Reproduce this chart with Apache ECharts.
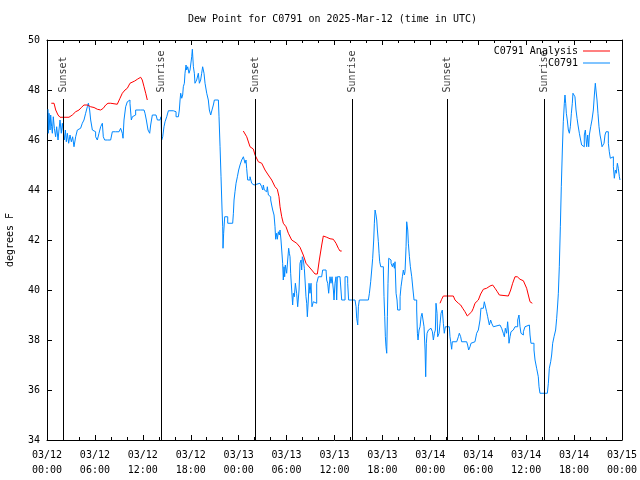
<!DOCTYPE html>
<html>
<head>
<meta charset="utf-8">
<script src="https://cdn.jsdelivr.net/npm/echarts@6/dist/echarts.min.js"></script>
<style>html,body{margin:0;padding:0;background:#fff}#c{width:640px;height:480px}</style>
</head>
<body>
<div id="c"></div>
<script>
// x values are hours since 2025-03-12 00:00 UTC
const tickLabels = ['03/12\n00:00','03/12\n06:00','03/12\n12:00','03/12\n18:00','03/13\n00:00','03/13\n06:00','03/13\n12:00','03/13\n18:00','03/14\n00:00','03/14\n06:00','03/14\n12:00','03/14\n18:00','03/15\n00:00'];
const sunTimes = [2.0, 14.28, 26.05, 38.19, 50.09, 62.24];
const sunLabels = ['Sunset','Sunrise','Sunset','Sunrise','Sunset','Sunrise'];

const analysisSeg1 = [[0.54,47.47],[0.88,47.47],[1.09,47.2],[1.38,47.0],[1.63,46.91],[2.75,46.91],[3.17,47.0],[3.59,47.13],[4.01,47.2],[4.3,47.3],[4.63,47.4],[5.05,47.4],[5.47,47.33],[5.89,47.3],[6.3,47.23],[6.72,47.2],[7.05,47.27],[7.35,47.4],[7.64,47.47],[7.98,47.47],[8.8,47.43],[9.14,47.67],[9.43,47.87],[9.77,48.0],[10.06,48.07],[10.39,48.27],[10.98,48.36],[11.31,48.43],[11.73,48.51],[11.93,48.4],[12.15,48.13],[12.36,47.87],[12.56,47.6]];
const analysisSeg2 = [[24.58,46.36],[25.01,46.13],[25.42,45.73],[25.83,45.64],[26.05,45.4],[26.46,45.13],[26.89,45.07],[27.3,44.8],[27.71,44.6],[28.14,44.4],[28.55,44.13],[28.84,44.03],[29.05,43.73],[29.18,43.33],[29.39,42.93],[29.59,42.67],[29.93,42.53],[30.22,42.27],[30.64,42.0],[31.27,41.87],[31.68,41.71],[31.89,41.67],[32.09,41.4],[32.43,41.07],[32.72,40.96],[33.15,40.8],[33.56,40.64],[33.85,40.64],[34.1,41.2],[34.4,41.8],[34.6,42.16],[35.02,42.11],[35.44,42.05],[35.85,42.03],[36.19,41.87],[36.48,41.67],[36.69,41.56],[36.9,41.56]];
const analysisSeg3 = [[49.21,39.47],[49.42,39.63],[49.63,39.76],[50.88,39.76],[51.09,39.6],[51.51,39.47],[51.8,39.4],[52.05,39.27],[52.34,39.13],[52.63,38.96],[52.88,38.96],[53.18,39.13],[53.38,39.27],[53.59,39.47],[54.01,39.6],[54.3,39.84],[54.64,40.03],[55.05,40.07],[55.47,40.16],[55.8,40.2],[56.1,40.07],[56.39,39.93],[56.64,39.8],[57.77,39.76],[58.06,40.0],[58.31,40.27],[58.6,40.53],[58.89,40.53],[59.23,40.43],[59.65,40.37],[59.85,40.33],[60.06,40.07],[60.27,39.8],[60.48,39.53],[60.77,39.47]];

const obsA = [[0.13,47.23],[0.17,46.27],[0.25,47.07],[0.38,46.4],[0.46,47.0],[0.58,46.53],[0.67,46.27],[0.79,46.93],[0.92,46.47],[1.08,46.13],[1.21,46.53],[1.38,46.0],[1.5,46.4],[1.63,46.8],[1.79,46.27],[1.92,46.67],[2.05,46.33],[2.17,46.0],[2.3,46.4],[2.42,45.93],[2.55,46.27],[2.71,45.87],[2.88,46.2],[3.05,45.93],[3.21,46.13],[3.38,45.73],[3.59,46.13],[3.8,46.4],[4.0,46.47],[4.21,46.4],[4.42,46.67],[4.63,46.8],[4.84,47.07],[5.05,47.33],[5.18,47.47],[5.34,47.2],[5.47,46.8],[5.68,46.4],[5.89,46.33],[6.09,46.13],[6.3,46.0],[6.51,46.27],[6.72,46.53],[6.93,46.67],[7.05,46.13],[7.22,46.0],[7.55,46.0],[7.97,46.07],[8.18,46.33],[8.6,46.33],[9.02,46.33],[9.22,46.47],[9.43,46.27],[9.52,46.07],[9.64,46.8],[9.85,47.33],[10.06,47.53],[10.27,47.6],[10.39,47.47],[10.56,46.8],[10.69,46.93],[10.9,47.0],[11.1,47.2],[11.73,47.2],[12.15,47.2],[12.27,47.07],[12.44,46.8],[12.65,46.4],[12.86,46.27],[12.98,46.6],[13.19,47.0]];
const obsB = [[13.65,46.96],[13.82,46.8],[14.15,46.8],[14.28,46.93],[14.36,46.0],[14.49,46.13],[14.65,46.53],[14.78,46.73],[14.99,46.93],[15.2,47.17],[15.82,47.17],[16.03,47.13],[16.16,46.93],[16.45,46.93],[16.57,47.2],[16.66,47.6],[16.74,47.87],[16.87,47.67],[16.99,47.8],[17.07,48.13],[17.2,48.27],[17.28,48.67],[17.41,49.0],[17.49,48.8],[17.62,48.93],[17.78,48.67],[17.91,48.8],[17.99,49.0],[18.12,49.33],[18.2,49.63],[18.33,48.93],[18.45,48.67],[18.53,48.27],[18.74,48.4],[18.95,48.67],[19.08,48.27],[19.24,48.4],[19.37,48.67],[19.49,48.93],[19.66,48.67],[19.79,48.27],[20.0,47.87],[20.2,47.6],[20.33,47.2],[20.5,47.0],[20.66,47.2],[20.83,47.4],[20.96,47.6],[21.46,47.6],[21.54,46.93],[21.67,45.73],[21.79,44.53],[21.92,43.2],[22.0,42.53],[22.04,41.67],[22.12,42.27],[22.25,42.93],[22.5,42.93],[22.63,42.67],[23.25,42.67],[23.34,43.07],[23.42,43.6],[23.54,43.93],[23.67,44.27],[23.84,44.53],[24.0,44.8],[24.17,45.0],[24.38,45.2],[24.59,45.33],[24.8,45.07],[24.92,45.2],[25.0,44.87],[25.13,44.4],[25.3,44.4],[25.42,44.53]];
const obsC = [[25.63,44.27],[25.75,44.2],[25.92,44.27],[26.67,44.27],[26.88,44.13],[27.01,44.0],[27.09,44.2],[27.21,44.0],[27.38,43.93],[27.51,43.87],[27.59,44.13],[27.72,43.8],[27.84,43.73],[28.01,43.6],[28.13,43.4],[28.26,43.2],[28.43,43.0],[28.55,42.53],[28.63,42.03],[28.76,42.27],[28.84,42.03],[28.97,42.33],[29.09,42.2],[29.18,42.4],[29.3,42.0],[29.39,41.6],[29.51,41.07],[29.59,40.4],[29.68,40.93],[29.76,40.53],[29.84,41.0],[30.01,40.67],[30.14,41.2],[30.26,41.67],[30.35,41.47],[30.43,41.33],[30.51,40.67],[30.64,40.0],[30.76,39.4],[30.85,39.87],[30.97,39.73],[31.1,40.27],[31.26,39.87],[31.39,39.33],[31.56,40.0],[31.68,41.07],[31.81,41.2],[31.89,40.8],[31.97,41.33],[32.1,41.2],[32.22,40.87],[32.31,40.4],[32.43,39.73],[32.52,39.47],[32.6,38.93],[32.72,39.6],[32.81,40.27],[32.93,39.87],[33.06,40.27],[33.18,39.33],[33.35,39.53],[33.6,39.47],[33.77,40.27],[33.98,40.53],[34.39,40.53],[34.52,40.8],[34.94,40.8],[35.02,40.4],[35.15,40.27],[35.27,39.87],[35.44,40.53],[35.56,40.27],[35.69,40.53],[35.86,40.0],[35.94,39.6],[36.06,40.27],[36.19,40.53],[36.27,39.6],[36.36,40.53],[36.69,40.53],[36.9,39.6],[37.11,39.6],[37.32,40.53],[37.52,40.53],[37.65,40.27],[37.77,39.6]];
const obsD = [[38.57,39.6],[38.7,39.33],[38.78,38.87],[38.91,38.6],[38.99,39.33],[39.11,39.6],[40.24,39.6],[40.37,39.87],[40.53,40.33],[40.66,40.8],[40.78,41.27],[40.91,42.0],[40.99,42.67],[41.08,43.2],[41.2,43.0],[41.29,42.8],[41.37,42.4],[41.49,41.93],[41.58,41.47],[41.66,41.13],[41.79,40.93],[42.12,40.8],[42.2,39.73],[42.29,38.93],[42.37,38.13],[42.45,37.73],[42.54,37.47],[42.62,38.93],[42.7,40.27],[42.79,41.27],[42.96,41.2],[43.08,41.07],[43.25,40.93],[43.37,41.07],[43.5,40.87],[43.58,41.13],[43.71,39.87],[43.83,39.6],[43.91,39.2],[44.12,39.2],[44.21,39.73],[44.33,40.13],[44.5,40.53],[44.62,40.8],[44.75,40.6],[44.83,40.73],[44.96,41.73],[45.04,42.73],[45.17,42.4],[45.25,41.87],[45.38,41.33],[45.5,40.93],[45.67,40.53],[45.83,40.0],[45.96,39.6],[46.17,39.6],[46.29,39.2],[46.38,38.27],[46.46,38.0],[46.59,38.4],[46.71,38.53],[46.84,38.93],[46.96,39.07],[47.09,39.0],[47.21,38.53],[47.34,37.6],[47.42,36.53],[47.5,37.87],[47.59,38.27],[47.76,38.4],[47.96,38.47],[48.09,38.53],[48.26,38.33],[48.38,38.0],[48.51,38.27],[48.63,38.4],[48.71,39.47],[48.84,39.07],[48.92,38.13],[49.09,38.27],[49.22,38.67],[49.34,39.07],[49.5,39.2],[49.63,38.67],[49.75,38.27],[49.88,38.53],[50.38,38.47]];
const obsE = [[50.46,38.13],[50.55,37.93],[50.67,37.63],[50.75,37.93],[51.3,37.93],[51.51,38.13],[51.63,38.27],[51.8,38.13],[51.92,37.93],[52.55,37.93],[52.67,37.8],[52.8,37.6],[52.97,37.73],[53.09,37.87],[53.3,37.93],[53.59,37.93],[53.8,38.27],[54.01,38.4],[54.22,38.8],[54.34,39.27],[54.64,39.33],[54.76,39.53],[54.85,39.53],[54.97,39.47],[55.05,39.13],[55.18,38.93],[55.3,39.0],[55.39,38.6],[55.55,38.8],[55.68,38.67],[55.89,38.53],[56.1,38.6],[56.72,38.53],[56.93,38.47],[57.14,38.27],[57.27,38.13],[57.39,38.47],[57.56,38.27],[57.68,38.73],[57.77,38.4],[57.85,37.87],[57.98,38.13],[58.1,38.33],[58.23,38.4],[58.39,38.33],[58.6,38.53],[58.81,38.53],[58.94,38.8],[59.1,39.0],[59.23,38.53],[59.35,38.27],[59.48,38.2],[59.65,38.33],[59.85,38.53],[59.98,38.6],[60.4,38.6],[60.48,38.2],[60.6,37.87],[60.81,37.87],[60.98,37.6],[61.11,37.2],[61.31,36.87],[61.52,36.53],[61.61,36.13],[61.73,35.87],[62.65,35.87],[62.78,36.27],[62.9,36.87],[63.07,37.13],[63.19,37.4],[63.32,37.87],[63.49,38.13],[63.69,38.4],[63.82,38.87],[63.94,39.4],[64.03,39.87],[64.15,40.93],[64.28,42.53],[64.4,44.13],[64.53,45.6],[64.65,46.73],[64.78,47.47],[64.86,47.8],[64.95,47.47],[65.03,47.07],[65.15,46.8],[65.28,46.4],[65.41,46.27],[65.53,46.53],[65.66,47.07],[65.78,47.47],[65.86,47.87],[65.99,47.93],[66.11,47.73],[66.24,47.2],[66.37,46.87],[66.49,46.6],[66.66,46.27],[66.82,46.0],[66.95,45.8],[67.16,45.73],[67.28,46.2],[67.41,46.4],[67.58,45.73],[67.7,46.2],[67.83,45.73],[67.91,46.2],[68.08,46.53],[68.24,46.8],[68.41,47.2],[68.54,47.8],[68.66,48.27],[68.74,48.0],[68.87,47.6],[68.99,47.07],[69.12,46.53],[69.25,46.2],[69.37,46.0],[69.5,45.73],[69.62,45.67],[69.75,45.87],[69.87,46.2],[70.0,46.33],[70.16,46.33],[70.29,45.87],[70.41,45.53],[70.54,45.27],[70.66,45.2],[70.79,45.33],[70.92,44.93],[71.04,44.47],[71.17,44.8],[71.29,44.67],[71.42,45.07],[71.54,44.87],[71.67,44.53],[71.75,44.4]];

const FONT = 'DejaVu Sans Mono';
const RED = '#ff0000';
const BLUE = '#0088ff';
const Y_MIN = 34, Y_MAX = 50;
const SUN_LINE_TOP = 47.64;
const SUN_LABEL_BASE = 47.9;

const observed = obsA.concat(obsB, obsC, obsD, obsE);

const chart = echarts.init(document.getElementById('c'), null, {renderer: 'canvas'});

const axisLineStyle = {lineStyle: {color: '#000', width: 1}};
const xCommon = {
  type: 'value', min: 0, max: 72, interval: 6,
  axisLine: Object.assign({show: true, onZero: false}, axisLineStyle),
  axisTick: {show: true, inside: true, length: 5, lineStyle: {color: '#000'}},
  minorTick: {show: true, splitNumber: 3, length: 3, lineStyle: {color: '#000'}},
  splitLine: {show: false}, minorSplitLine: {show: false}
};
const yCommon = {
  type: 'value', min: Y_MIN, max: Y_MAX, interval: 2,
  axisLine: Object.assign({show: true, onZero: false}, axisLineStyle),
  axisTick: {show: true, inside: true, length: 5, lineStyle: {color: '#000'}},
  splitLine: {show: false}
};

const redSeries = [analysisSeg1, analysisSeg2, analysisSeg3].map(seg => ({
  name: 'C0791 Analysis', type: 'line', data: seg, symbol: 'none',
  lineStyle: {color: RED, width: 1}, itemStyle: {color: RED}, z: 3
}));

chart.setOption({
  animation: false,
  backgroundColor: '#fff',
  textStyle: {fontFamily: FONT},
  title: {
    text: 'Dew Point for C0791 on 2025-Mar-12 (time in UTC)',
    left: 188, top: 14, padding: 0,
    textStyle: {fontFamily: FONT, fontSize: 10, fontWeight: 'normal', color: '#000'}
  },
  legend: {
    data: [{name: 'C0791 Analysis', itemStyle: {color: RED}}, {name: 'C0791', itemStyle: {color: BLUE}}],
    orient: 'vertical', align: 'right',
    right: 30, top: 45, itemGap: 0, padding: 0,
    icon: 'rect', itemWidth: 27, itemHeight: 1,
    textStyle: {fontFamily: FONT, fontSize: 10, color: '#000', lineHeight: 12, height: 12},
    selectedMode: false
  },
  grid: {left: 47, right: 18, top: 40, bottom: 40, containLabel: false, outerBoundsMode: 'none'},
  xAxis: [
    Object.assign({}, xCommon, {
      position: 'bottom',
      axisLabel: {show: true, margin: 8, fontFamily: FONT, fontSize: 10, color: '#000', lineHeight: 15,
        hideOverlap: false, formatter: v => tickLabels[Math.round(v / 6)]}
    }),
    Object.assign({}, xCommon, {position: 'top', axisLabel: {show: false}})
  ],
  yAxis: [
    Object.assign({}, yCommon, {
      position: 'left',
      name: 'degrees F', nameLocation: 'middle', nameGap: 32, nameRotate: 90,
      nameTextStyle: {fontFamily: FONT, fontSize: 10, color: '#000'},
      axisLabel: {show: true, margin: 7, fontFamily: FONT, fontSize: 10, color: '#000'}
    }),
    Object.assign({}, yCommon, {position: 'right', axisLabel: {show: false}})
  ],
  series: redSeries.concat([
    {
      name: 'C0791', type: 'line', data: observed, symbol: 'none', step: 'end',
      lineStyle: {color: BLUE, width: 1}, itemStyle: {color: BLUE}, z: 2
    },
    {
      name: 'sun', type: 'scatter', symbolSize: 1, silent: true,
      itemStyle: {color: 'rgba(0,0,0,0)'},
      data: sunTimes.map((t, i) => ({value: [t, SUN_LABEL_BASE], name: sunLabels[i]})),
      label: {show: true, formatter: '{b}', position: 'inside', rotate: 90,
        align: 'left', verticalAlign: 'middle',
        fontFamily: FONT, fontSize: 10, color: '#000'},
      markLine: {
        silent: true, symbol: 'none', animation: false,
        label: {show: false},
        lineStyle: {color: '#000', width: 1, type: 'solid'},
        data: sunTimes.map(t => [{coord: [t, Y_MIN]}, {coord: [t, SUN_LINE_TOP]}])
      },
      z: 4
    }
  ])
});
</script>
</body>
</html>
